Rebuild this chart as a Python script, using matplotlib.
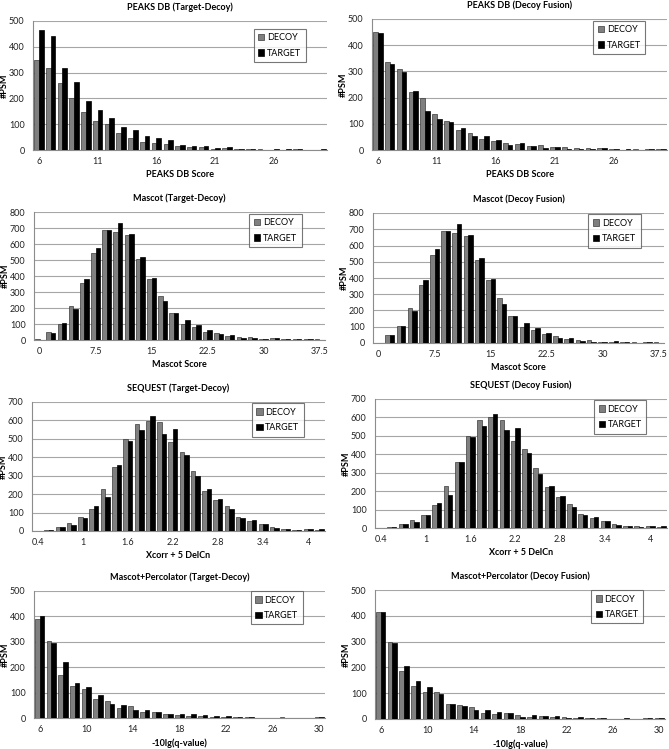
import numpy as np
import matplotlib
matplotlib.use("Agg")
import matplotlib.pyplot as plt

plt.rcParams['font.family'] = ['Lato', 'DejaVu Sans']

# PEAKS DB score bins 6..30
peaks_cats = list(range(6, 31))
peaks_td_decoy = [350, 317, 260, 203, 147, 112, 100, 66, 48, 32, 28, 22, 16, 12, 12, 5, 7, 5, 3, 2, 0, 1, 2, 0, 1]
peaks_td_target = [465, 443, 316, 264, 190, 156, 124, 90, 77, 55, 45, 38, 20, 17, 17, 8, 12, 3, 4, 1, 4, 2, 3, 0, 2]
peaks_df_decoy = [449, 335, 309, 221, 199, 139, 111, 78, 64, 42, 34, 26, 22, 15, 18, 13, 10, 9, 9, 8, 3, 1, 3, 2, 3]
peaks_df_target = [446, 327, 296, 224, 148, 119, 107, 83, 55, 52, 38, 19, 28, 17, 6, 10, 5, 3, 5, 6, 2, 3, 1, 2, 3]

# Mascot score bins 0..37.5 step 1.5
mascot_cats = [0, 1.5, 3, 4.5, 6, 7.5, 9, 10.5, 12, 13.5, 15, 16.5, 18, 19.5, 21, 22.5,
               24, 25.5, 27, 28.5, 30, 31.5, 33, 34.5, 36, 37.5]
mascot_td_decoy = [4, 52, 102, 213, 355, 543, 685, 676, 658, 507, 384, 276, 169, 100, 81, 52,
                   44, 25, 17, 17, 8, 10, 6, 4, 6, 4]
mascot_td_target = [1, 46, 104, 194, 382, 578, 685, 729, 662, 520, 388, 242, 167, 123, 94, 61,
                    35, 31, 15, 10, 8, 10, 6, 4, 5, 2]
mascot_df_decoy = [2, 51, 103, 213, 357, 544, 687, 677, 658, 511, 386, 277, 168, 100, 80, 53,
                   41, 23, 16, 16, 8, 8, 6, 4, 6, 4]
mascot_df_target = [0, 47, 105, 197, 386, 580, 687, 732, 662, 521, 392, 240, 166, 123, 94, 61,
                    33, 33, 12, 8, 8, 10, 4, 2, 4, 2]

# SEQUEST Xcorr + 5 DelCn bins 0.4..4.15 step 0.15
sequest_cats = [0.4, 0.55, 0.7, 0.85, 1.0, 1.15, 1.3, 1.45, 1.6, 1.75, 1.9, 2.05, 2.2, 2.35,
                2.5, 2.65, 2.8, 2.95, 3.1, 3.25, 3.4, 3.55, 3.7, 3.85, 4.0, 4.15]
sequest_td_decoy = [0, 7, 22, 42, 78, 122, 226, 350, 497, 580, 597, 590, 482, 430,
                    323, 218, 167, 133, 78, 53, 38, 22, 13, 8, 12, 8]
sequest_td_target = [0, 5, 20, 35, 69, 138, 182, 357, 490, 548, 622, 527, 553, 415,
                     300, 230, 175, 120, 70, 62, 40, 15, 10, 5, 12, 12]
sequest_df_decoy = [0, 5, 22, 42, 73, 123, 227, 356, 499, 586, 602, 586, 474, 428,
                    325, 220, 167, 131, 74, 53, 36, 22, 11, 9, 9, 7]
sequest_df_target = [0, 5, 20, 33, 69, 136, 178, 356, 495, 553, 621, 530, 543, 407,
                     294, 230, 174, 114, 69, 60, 36, 16, 11, 5, 13, 11]

# Mascot+Percolator -10lg(q-value) bins 6..30
perc_cats = list(range(6, 31))
perc_td_decoy = [390, 302, 168, 125, 114, 73, 67, 40, 47, 25, 22, 14, 12, 8, 8, 2, 2, 4, 4, 1, 0, 2, 0, 0, 4]
perc_td_target = [401, 296, 221, 137, 124, 89, 57, 51, 30, 31, 22, 17, 15, 16, 12, 8, 8, 4, 4, 0, 0, 0, 0, 0, 3]
perc_df_decoy = [415, 298, 186, 128, 103, 103, 60, 54, 46, 23, 21, 23, 17, 8, 10, 8, 6, 5, 3, 4, 1, 0, 1, 3, 4]
perc_df_target = [413, 293, 205, 148, 124, 98, 60, 51, 36, 35, 26, 25, 7, 15, 10, 13, 5, 6, 5, 4, 0, 3, 0, 3, 2]

W, H = 669, 749
fig = plt.figure(figsize=(W / 100, H / 100), dpi=100)


def add_ax(left, top, right, bottom):
    return fig.add_axes([left / W, 1 - bottom / H, (right - left) / W, (bottom - top) / H])


def fmt(v):
    return "{:g}".format(v)


def draw_panel(box, title, xlabel, cats, decoy, target, ymax, step, leg_x, leg_y):
    ax = add_ax(*box)
    x = np.arange(len(cats))
    w = 0.4
    ax.bar(x - w / 2, decoy, w, color="#7f7f7f", edgecolor="#3a3a3a", linewidth=0.5, label="DECOY", zorder=3)
    ax.bar(x + w / 2, target, w, color="#000000", edgecolor="#000000", linewidth=0.5, label="TARGET", zorder=3)
    ax.set_xlim(-0.5, len(cats) - 0.5)
    ax.set_ylim(0, ymax)
    ax.set_yticks(np.arange(0, ymax + 1, 100))
    ax.set_xticks(x[::step])
    ax.set_xticklabels([fmt(c) for c in cats[::step]])
    ax.yaxis.grid(True, color="#a6a6a6", linewidth=0.8, zorder=0)
    ax.set_axisbelow(True)
    for s in ["top", "right"]:
        ax.spines[s].set_visible(False)
    for s in ["left", "bottom"]:
        ax.spines[s].set_color("#8c8c8c")
        ax.spines[s].set_linewidth(0.8)
    ax.tick_params(axis="y", labelsize=6.5, length=0, pad=6, colors="#222222")
    ax.tick_params(axis="x", labelsize=6.5, length=0, pad=5, colors="#222222")
    ax.set_title(title, fontsize=6.5, fontweight="bold", pad=8)
    ax.set_xlabel(xlabel, fontsize=6.5, fontweight="bold", labelpad=3)
    ax.set_ylabel("#PSM", fontsize=6.5, fontweight="bold")
    ax.yaxis.set_label_coords(-0.082, 0.5)
    leg = ax.legend(loc="upper left", bbox_to_anchor=(leg_x, leg_y), fontsize=6.5, frameon=True,
                    fancybox=False, edgecolor="#555555", handlelength=0.7, handleheight=0.7,
                    handletextpad=0.3, borderpad=0.5, labelspacing=0.7, borderaxespad=0)
    leg.get_frame().set_linewidth(0.8)
    return ax


draw_panel((33, 21, 327, 150), "PEAKS DB (Target-Decoy)", "PEAKS DB Score",
           peaks_cats, peaks_td_decoy, peaks_td_target, 500, 5, 0.75, 0.94)
draw_panel((372, 19, 667, 150), "PEAKS DB (Decoy Fusion)", "PEAKS DB Score",
           peaks_cats, peaks_df_decoy, peaks_df_target, 500, 5, 0.75, 0.985)
draw_panel((34, 212, 325, 340), "Mascot (Target-Decoy)", "Mascot Score",
           mascot_cats, mascot_td_decoy, mascot_td_target, 800, 5, 0.74, 0.985)
draw_panel((373, 213, 664, 343), "Mascot (Decoy Fusion)", "Mascot Score",
           mascot_cats, mascot_df_decoy, mascot_df_target, 800, 5, 0.74, 0.99)
draw_panel((32, 402, 325, 531), "SEQUEST (Target-Decoy)", "Xcorr + 5 DelCn",
           sequest_cats, sequest_td_decoy, sequest_td_target, 700, 4, 0.75, 0.99)
draw_panel((375, 399, 667, 528), "SEQUEST (Decoy Fusion)", "Xcorr + 5 DelCn",
           sequest_cats, sequest_df_decoy, sequest_df_target, 700, 4, 0.75, 0.99)
draw_panel((34, 591, 325, 718), "Mascot+Percolator (Target-Decoy)", "-10lg(q-value)",
           perc_cats, perc_td_decoy, perc_td_target, 500, 4, 0.745, 1.0)
draw_panel((375, 590, 665, 719), "Mascot+Percolator (Decoy Fusion)", "-10lg(q-value)",
           perc_cats, perc_df_decoy, perc_df_target, 500, 4, 0.745, 1.0)

fig.savefig("out.png", dpi=100)
